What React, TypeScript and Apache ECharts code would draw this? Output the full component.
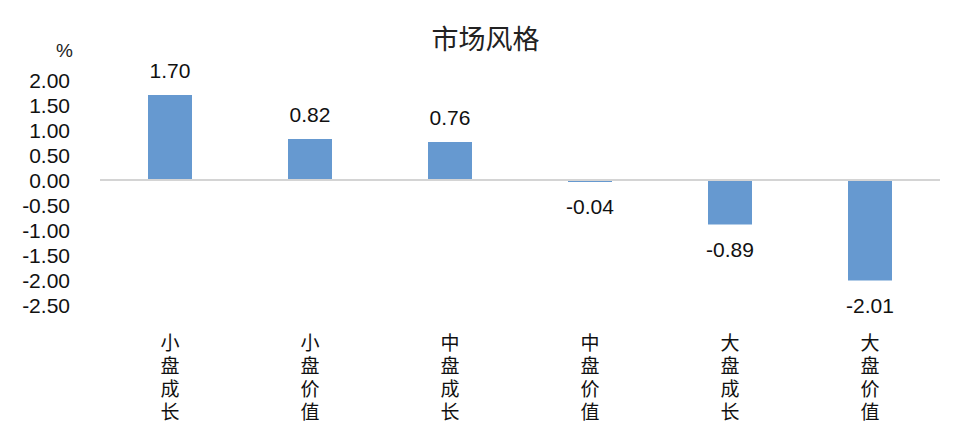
import React, { useEffect, useRef } from "react";
import * as echarts from "echarts";

const categories = ["小盘成长", "小盘价值", "中盘成长", "中盘价值", "大盘成长", "大盘价值"];
const values = [1.7, 0.82, 0.76, -0.04, -0.89, -2.01];
const yTicks = { min: -2.5, max: 2.0, interval: 0.5 };

const FONT = "'Liberation Sans', 'Noto Sans CJK SC', sans-serif";
const CJK = "'Noto Sans CJK SC', sans-serif";

const App: React.FC = () => {
  const chartRef = useRef<HTMLDivElement>(null);

  useEffect(() => {
    document.body.style.margin = "0";
    if (!chartRef.current) return;
    const chart = echarts.init(chartRef.current, undefined, { renderer: "svg" });

    chart.setOption({
      animation: false,
      title: [
        {
          text: "市场风格",
          left: "center",
          top: 19,
          textStyle: { fontFamily: CJK, fontSize: 27, fontWeight: "normal", color: "#222" },
        },
        {
          text: "%",
          left: 51,
          top: 36,
          textStyle: { fontFamily: FONT, fontSize: 19, fontWeight: "normal", color: "#222" },
        },
      ],
      grid: { left: 100, right: 31, top: 80, height: 225 },
      xAxis: {
        type: "category",
        data: categories,
        axisLine: { show: false, onZero: false },
        axisTick: { show: false },
        axisLabel: {
          margin: 25,
          color: "#111",
          fontSize: 19,
          lineHeight: 23,
          fontFamily: CJK,
          formatter: (v: string) => v.split("").join("\n"),
        },
      },
      yAxis: {
        type: "value",
        min: yTicks.min,
        max: yTicks.max,
        interval: yTicks.interval,
        axisLine: { show: false },
        axisTick: { show: false },
        splitLine: { show: false },
        axisLabel: {
          margin: 30,
          color: "#111",
          fontSize: 21,
          fontFamily: FONT,
          formatter: (v: number) => v.toFixed(2),
        },
      },
      series: [
        {
          type: "bar",
          barWidth: 44,
          itemStyle: { color: "#6699D0" },
          data: values.map((v) => ({
            value: v,
            label: {
              show: true,
              position: v >= 0 ? "top" : "bottom",
              distance: 14,
              fontSize: 21,
              fontFamily: FONT,
              color: "#111",
              formatter: (p: any) => Number(p.value).toFixed(2),
            },
          })),
          markLine: {
            silent: true,
            symbol: "none",
            label: { show: false },
            lineStyle: { color: "#d4d4d4", width: 2, type: "solid" },
            data: [{ yAxis: 0 }],
          },
        },
      ],
    });

    return () => chart.dispose();
  }, []);

  return <div ref={chartRef} style={{ width: 971, height: 434 }} />;
};

export default App;
